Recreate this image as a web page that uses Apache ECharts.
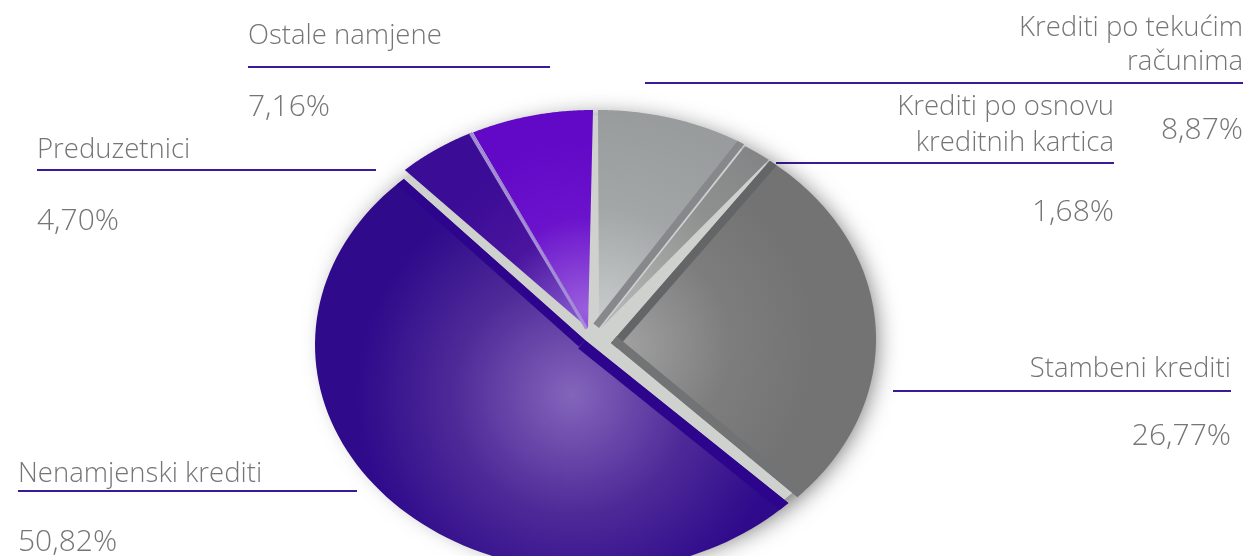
<!DOCTYPE html>
<html>
<head>
<meta charset="utf-8">
<script src="https://cdn.jsdelivr.net/npm/echarts@6/dist/echarts.min.js"></script>
<style>html,body{margin:0;padding:0;background:#fff}#c{width:1249px;height:556px}</style>
</head>
<body>
<div id="c"></div>
<script>
var categories = ['Krediti po tekućim\nračunima', 'Krediti po osnovu\nkreditnih kartica', 'Stambeni krediti', 'Nenamjenski krediti', 'Preduzetnici', 'Ostale namjene'];
var shares = [8.87, 1.68, 26.77, 50.82, 4.70, 7.16];

var FONT = '"Open Sans", sans-serif';
var TEXT = '#747676', RULE = '#3a1a96';
var CX = 595, CY = 336, RX = 276, RY = 226;

// slice appearance: explode offset, apex offset, gradient, edge bands
var looks = [
  {dx: 3, dy: 0, ax: 1, ay: -8, glow: [598, 322, 210], stops: ['#c9cdcd', '#a2a6a6', '#989c9c'],
   bands: [{edge: 1, w: 7, c: '#87888c'}]},
  {dx: 4, dy: 2, ax: 2, ay: -10, glow: [610, 310, 240], stops: ['#b5b7b7', '#8f9090', '#808182'], bands: []},
  {dx: 5, dy: 3, ax: 11, ay: 4, glow: [625, 345, 190], stops: ['#a0a0a0', '#7d7d7d', '#737373'],
   bands: [{edge: 0, w: 8, c: '#646566'}, {edge: 1, w: 9, c: '#727375'}]},
  {dx: -4, dy: 9, ax: -6, ay: -5, glow: [572, 395, 215], stops: ['#8465bb', '#4e2a98', '#2f0a8b'],
   bands: [{edge: 0, w: 11, c: '#2d058c'}, {edge: 1, w: 9, c: '#2d058c'}]},
  {dx: -3, dy: 0, ax: -4, ay: -8, glow: [582, 325, 170], stops: ['#8a5fd2', '#4a149f', '#3b0c95'],
   bands: [{edge: 1, w: 3, c: '#a58ed8'}]},
  {dx: -2, dy: 0, ax: -5, ay: -8, glow: [586, 310, 170], stops: ['#9a5fdc', '#6a12cc', '#6109c6'], bands: []}
];

// callout layout: anchor, rule extent and text rows
var callouts = [
  {align: 'right', x: 1243, name: 28, lineGap: 34, rule: [645, 83], pct: 130},
  {align: 'right', x: 1114, name: 107, lineGap: 36, rule: [776, 163], pct: 212},
  {align: 'right', x: 1231, name: 369, lineGap: 0, rule: [893, 391], pct: 436},
  {align: 'left', x: 18, name: 474, lineGap: 0, rule: [357, 491], pct: 542},
  {align: 'left', x: 37, name: 150, lineGap: 0, rule: [376, 170], pct: 221},
  {align: 'left', x: 248, name: 36, lineGap: 0, rule: [550, 67], pct: 107}
];

var total = shares.reduce(function (a, b) { return a + b; }, 0);
var starts = [];
shares.reduce(function (acc, v, i) { starts[i] = acc; return acc + v; }, 0);

function arcPoint(t, look, grow) {
  var g = grow || 0;
  return [CX + look.dx + (RX + g) * Math.sin(t), CY + look.dy - (RY + g) * Math.cos(t)];
}

function renderSlice(params, api) {
  var i = params.dataIndex, look = looks[i];
  var a0 = starts[i] / total * 2 * Math.PI;
  var a1 = a0 + api.value(0) / total * 2 * Math.PI;
  var apex = [CX + look.dx + look.ax, CY + look.dy + look.ay];
  var pts = [apex];
  for (var k = 0; k <= 90; k++) pts.push(arcPoint(a0 + (a1 - a0) * k / 90, look));
  var children = [];
  if (i === 0) {
    // soft grey plate showing in the gaps and as a drop shadow
    var plate = [];
    for (var p = 0; p < 180; p++) plate.push(arcPoint(p / 180 * 2 * Math.PI, {dx: 1, dy: 2}, -3));
    children.push({type: 'polygon', shape: {points: plate}, style: {
      fill: '#cfd1cf', shadowBlur: 24, shadowColor: 'rgba(0,0,0,0.6)', shadowOffsetX: 6, shadowOffsetY: 3}});
  }
  children.push({type: 'polygon', shape: {points: pts}, style: {
    fill: new echarts.graphic.RadialGradient(look.glow[0], look.glow[1], look.glow[2], [
      {offset: 0, color: look.stops[0]}, {offset: 0.55, color: look.stops[1]}, {offset: 1, color: look.stops[2]}
    ], true)}});
  look.bands.forEach(function (b) {
    var a = b.edge === 0 ? a0 : a1;
    var dir = b.edge === 0 ? 1 : -1;
    var tip = arcPoint(a, look);
    var tip2 = arcPoint(a + dir * b.w / ((RX + RY) / 2), look);
    var len = Math.hypot(tip[0] - apex[0], tip[1] - apex[1]);
    var nx = tip2[0] - tip[0], ny = tip2[1] - tip[1];
    var ux = (tip[0] - apex[0]) / len, uy = (tip[1] - apex[1]) / len;
    var dot = nx * ux + ny * uy;
    var px = nx - dot * ux, py = ny - dot * uy;
    children.push({type: 'polygon', shape: {points: [apex, tip, tip2, [apex[0] + px, apex[1] + py]]},
      style: {fill: b.c}});
  });
  return {type: 'group', children: children};
}

var graphics = [];
categories.forEach(function (name, i) {
  var c = callouts[i], right = c.align === 'right';
  name.split('\n').forEach(function (row, r) {
    graphics.push({type: 'text', style: {text: row, x: c.x, y: c.name + r * c.lineGap, align: c.align,
      verticalAlign: 'middle', font: '300 27.5px ' + FONT, fill: TEXT}});
  });
  graphics.push({type: 'text', style: {text: shares[i].toFixed(2).replace('.', ',') + '%', x: c.x, y: c.pct,
    align: c.align, verticalAlign: 'middle', font: '300 30px ' + FONT, fill: TEXT}});
  graphics.push({type: 'line', shape: {x1: right ? c.rule[0] : c.x, x2: right ? c.x : c.rule[0], y1: c.rule[1], y2: c.rule[1]},
    style: {stroke: RULE, lineWidth: 2}});
});

var chart = echarts.init(document.getElementById('c'), null, {renderer: 'canvas'});
chart.setOption({
  animation: false,
  backgroundColor: '#fff',
  graphic: graphics,
  series: [{
    type: 'custom',
    coordinateSystem: 'none',
    renderItem: renderSlice,
    data: shares.map(function (v) { return [v]; }),
    encode: {value: 0},
    silent: true
  }]
});
</script>
</body>
</html>
